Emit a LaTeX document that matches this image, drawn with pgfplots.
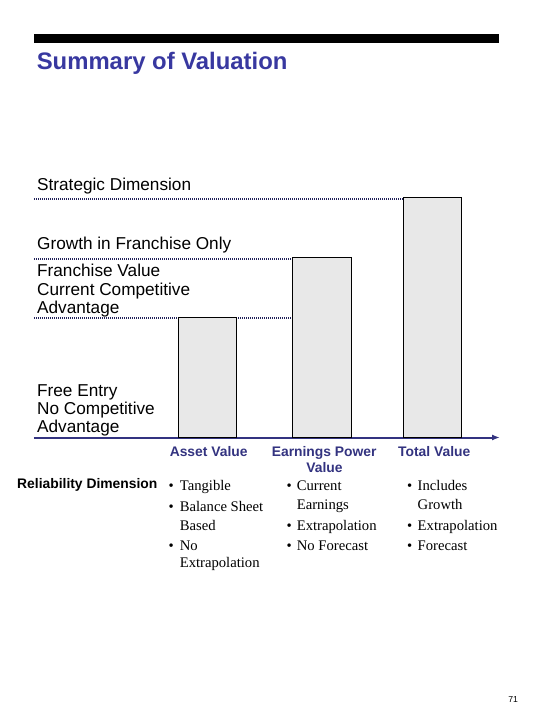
\documentclass[border=0pt]{standalone}
\usepackage{pgfplots}
\pgfplotsset{compat=1.18}
\usetikzlibrary{arrows.meta}
\usepackage{fontspec}
\setmainfont{Liberation Serif}
\setsansfont{Liberation Sans}
\newfontfamily\arial{Liberation Sans}

\definecolor{titleblue}{HTML}{3838A0}
\definecolor{navy}{HTML}{333380}
\definecolor{dotnavy}{HTML}{22225A}
\definecolor{barfill}{HTML}{E8E8E8}

% axis units are pixels of the 540x720 page (1px = 0.75pt),
% y measured upwards from the horizontal axis line
\begin{document}
\begin{tikzpicture}[
    every node/.style={inner sep=0pt, outer sep=0pt},
    lbl/.style={anchor=base west, font={\arial\fontsize{12.9}{15}\selectfont}},
    cat/.style={anchor=base, text=navy, font={\arial\bfseries\fontsize{10.4}{12}\selectfont}},
    txt/.style={anchor=base west, font={\fontsize{11}{13}\selectfont}},
    dotline/.style={dotnavy, line width=1.6pt, dash pattern=on 0.75pt off 0.75pt},
]
\begin{axis}[
    scale only axis,
    width=349.5pt, height=180pt,
    xmin=34, xmax=500,
    ymin=0, ymax=240,
    axis x line=bottom,
    axis y line=none,
    xtick=\empty, ytick=\empty,
    axis line style={navy, line width=1.5pt, -{Latex[length=6pt,width=4.5pt]}},
    clip=false,
]
    % value levels
    \addplot[dotline] coordinates {(34,238.5) (403.3,238.5)};
    \addplot[dotline] coordinates {(34,178.5) (292.5,178.5)};
    \addplot[dotline] coordinates {(34,119.5) (292.5,119.5)};

    % bars
    \addplot[ybar, bar width=58.5, fill=barfill, draw=black, line width=0.75pt]
        coordinates {(207.5,119.5) (322,180) (432.5,240)};

    % page frame
    \path (axis cs:0,437.5) rectangle (axis cs:540,-282.5);

    % header
    \fill[black] (axis cs:33.7,403.5) rectangle (axis cs:498.6,394.8);
    \node[anchor=base west, text=titleblue, font={\arial\bfseries\fontsize{17.9}{20}\selectfont}]
        at (axis cs:36.8,368.2) {Summary of Valuation};

    % strategic dimension labels
    \node[lbl] at (axis cs:37.2,246.8) {Strategic Dimension};
    \node[lbl] at (axis cs:37.2,187.5) {Growth in Franchise Only};
    \node[lbl] at (axis cs:37.2,160.8) {Franchise Value};
    \node[lbl] at (axis cs:37.2,141.8) {Current Competitive};
    \node[lbl] at (axis cs:37.2,123.5) {Advantage};
    \node[lbl] at (axis cs:37.2,41.5) {Free Entry};
    \node[lbl] at (axis cs:37.2,23.2) {No Competitive};
    \node[lbl] at (axis cs:37.2,4.8) {Advantage};

    % categories
    \node[cat] at (axis cs:208.7,-18.5) {Asset Value};
    \node[cat] at (axis cs:324.2,-18.5) {Earnings Power};
    \node[cat] at (axis cs:324.5,-35.2) {Value};
    \node[cat] at (axis cs:434.2,-18.5) {Total Value};
    \node[anchor=base west, font={\arial\bfseries\fontsize{10.4}{12}\selectfont}]
        at (axis cs:17.2,-50.8) {Reliability Dimension};

    % asset value
    \node[txt] at (axis cs:168.5,-52.5) {•};
    \node[txt] at (axis cs:179.8,-52.5) {Tangible};
    \node[txt] at (axis cs:168.5,-74.2) {•};
    \node[txt] at (axis cs:179.8,-74.2) {Balance Sheet};
    \node[txt] at (axis cs:179.8,-92.5) {Based};
    \node[txt] at (axis cs:168.5,-112.5) {•};
    \node[txt] at (axis cs:179.8,-112.5) {No};
    \node[txt] at (axis cs:179.8,-129.8) {Extrapolation};

    % earnings power value
    \node[txt] at (axis cs:286.7,-52.5) {•};
    \node[txt] at (axis cs:296.8,-52.5) {Current};
    \node[txt] at (axis cs:296.8,-71.5) {Earnings};
    \node[txt] at (axis cs:286.7,-92.5) {•};
    \node[txt] at (axis cs:296.8,-92.5) {Extrapolation};
    \node[txt] at (axis cs:286.7,-112.5) {•};
    \node[txt] at (axis cs:296.8,-112.5) {No Forecast};

    % total value
    \node[txt] at (axis cs:407.2,-52.5) {•};
    \node[txt] at (axis cs:417.7,-52.5) {Includes};
    \node[txt] at (axis cs:417.7,-71.5) {Growth};
    \node[txt] at (axis cs:407.2,-92.5) {•};
    \node[txt] at (axis cs:417.7,-92.5) {Extrapolation};
    \node[txt] at (axis cs:407.2,-112.5) {•};
    \node[txt] at (axis cs:417.7,-112.5) {Forecast};

    % page number
    \node[anchor=base west, font={\arial\fontsize{6.5}{8}\selectfont}]
        at (axis cs:508.3,-264.5) {71};
\end{axis}
\end{tikzpicture}
\end{document}
